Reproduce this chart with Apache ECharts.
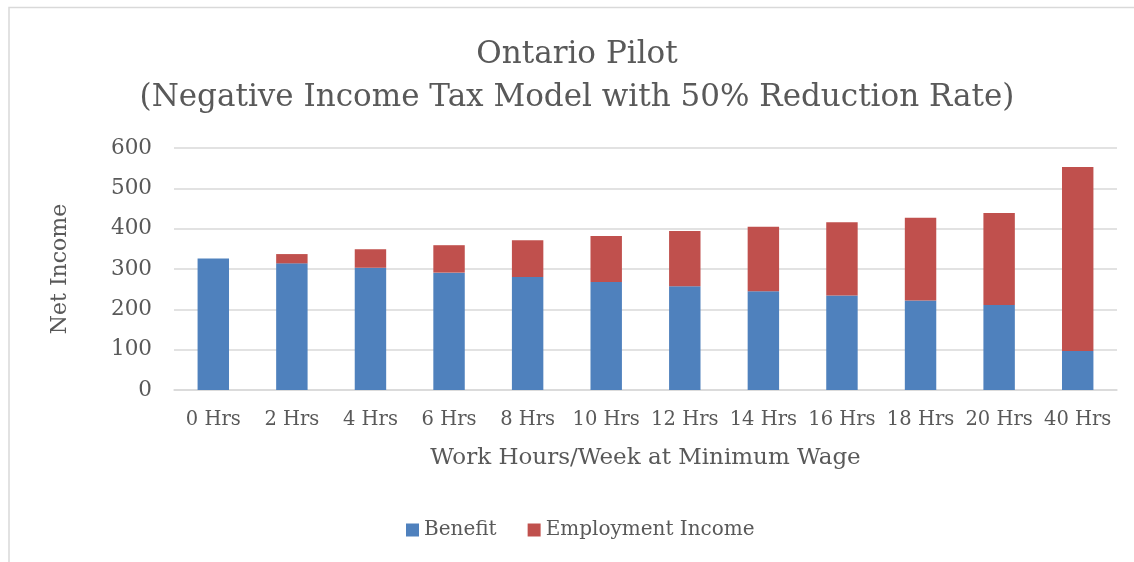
<!DOCTYPE html>
<html>
<head>
<meta charset="utf-8">
<script src="https://cdn.jsdelivr.net/npm/echarts@6/dist/echarts.min.js"></script>
<style>
html,body{margin:0;padding:0;background:#fff;}
#chart{width:1134px;height:562px;}
</style>
</head>
<body>
<div id="chart"></div>
<script>
const categories = ['0 Hrs','2 Hrs','4 Hrs','6 Hrs','8 Hrs','10 Hrs','12 Hrs','14 Hrs','16 Hrs','18 Hrs','20 Hrs','40 Hrs'];
const benefit = [326, 314, 303, 291, 280, 268, 257, 245, 234, 222, 211, 97];
const employmentIncome = [0, 23, 46, 68, 91, 114, 137, 160, 182, 205, 228, 456];
const yTicks = [0, 100, 200, 300, 400, 500, 600];

const FONT = 'DejaVu Serif';
const TXT = '#595959';
const chart = echarts.init(document.getElementById('chart'), null, {renderer: 'canvas'});
chart.setOption({
  animation: false,
  backgroundColor: '#fff',
  title: {
    text: 'Ontario Pilot\n(Negative Income Tax Model with 50% Reduction Rate)',
    left: 572,
    top: 28,
    textAlign: 'center',
    textStyle: {fontFamily: FONT, fontWeight: 'normal', fontSize: 31, color: TXT, lineHeight: 43}
  },
  graphic: [{
    type: 'polyline',
    silent: true,
    shape: {points: [[9, 562], [9, 7.5], [1134, 7.5]]},
    style: {stroke: '#d9d9d9', lineWidth: 1.5, fill: null}
  }],
  legend: {
    bottom: 17,
    left: 401,
    itemWidth: 13,
    itemHeight: 13,
    itemGap: 31,
    icon: 'rect',
    textStyle: {fontFamily: FONT, fontSize: 20, color: TXT},
    data: ['Benefit', 'Employment Income']
  },
  grid: {left: 174, right: 17, top: 148, bottom: 172},
  xAxis: {
    type: 'category',
    data: categories,
    name: 'Work Hours/Week at Minimum Wage',
    nameLocation: 'middle',
    nameGap: 57,
    nameTextStyle: {fontFamily: FONT, fontSize: 23, color: TXT},
    axisLine: {lineStyle: {color: '#d9d9d9', width: 1.5}},
    axisTick: {show: false},
    axisLabel: {fontFamily: FONT, fontSize: 19.5, color: TXT, margin: 20, interval: 0}
  },
  yAxis: {
    type: 'value',
    min: 0, max: 600, interval: 100,
    name: 'Net Income',
    nameLocation: 'middle',
    nameGap: 103,
    nameTextStyle: {fontFamily: FONT, fontSize: 22, color: TXT},
    axisLine: {show: false},
    axisTick: {show: false},
    axisLabel: {fontFamily: FONT, fontSize: 21.5, color: TXT, margin: 22,
      formatter: v => yTicks.includes(v) ? String(v) : ''},
    splitLine: {lineStyle: {color: '#d9d9d9', width: 1.5}}
  },
  series: [
    {name: 'Benefit', type: 'bar', stack: 'total', data: benefit, barWidth: '40%',
     itemStyle: {color: '#4f81bd'}},
    {name: 'Employment Income', type: 'bar', stack: 'total', data: employmentIncome, barWidth: '40%',
     itemStyle: {color: '#c0504d'}}
  ]
});
</script>
</body>
</html>
